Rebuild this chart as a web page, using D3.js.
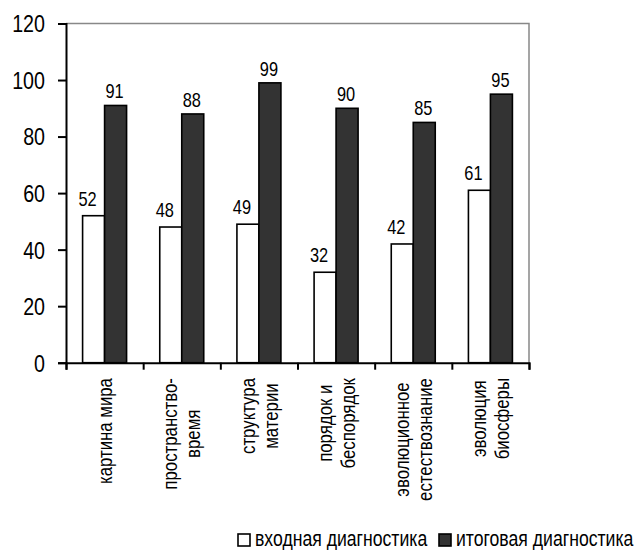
<!DOCTYPE html>
<html><head><meta charset="utf-8">
<script src="https://cdn.jsdelivr.net/npm/d3@7"></script>
<style>
body{margin:0;background:#fff}
svg text{font-family:"Liberation Sans",Arial,sans-serif;fill:#000}
</style></head><body>
<svg id="c" width="635" height="550"></svg>
<script>
const categories = [
  ["картина мира"],
  ["пространство-","время"],
  ["структура","материи"],
  ["порядок и","беспорядок"],
  ["эволюционное","естествознание"],
  ["эволюция","биосферы"]
];
const seriesNames = ["входная диагностика","итоговая диагностика"];
const inputValues = [52,48,49,32,42,61];
const finalValues = [91,88,99,90,85,95];
const yTicks = [0,20,40,60,80,100,120];

const NX = 0.82; // narrow-font horizontal scale
const svg = d3.select("#c");
const L=66, R=529, T=23.5, B=362.7;
const keys = categories.map((c,i)=>"c"+i);
const x = d3.scaleBand().domain(keys).range([L,R]).paddingInner(0.43).paddingOuter(0.215);
const xs = d3.scaleBand().domain([0,1]).range([0,x.bandwidth()]);
const y = d3.scaleLinear().domain([0,120]).range([B,T]);
const colors = ["#ffffff","#333333"];
const series = [inputValues, finalValues];

function ntext(parent, tx, ty, str, size, anchor){
  return parent.append("text")
    .attr("transform",`translate(${tx},${ty}) scale(${NX},1)`)
    .attr("text-anchor",anchor||"start").attr("font-size",size).text(str);
}

// frame (top/right gray)
svg.append("path").attr("d",`M${L},${T}H${R}V${B}`).attr("fill","none").attr("stroke","#888").attr("stroke-width",1.5);

// bars
series.forEach((vals,s)=>{
  svg.append("g").selectAll("rect").data(vals).join("rect")
    .attr("x",(d,i)=>x(keys[i])+xs(s))
    .attr("width",xs.bandwidth())
    .attr("y",d=>y(d)).attr("height",d=>B-y(d))
    .attr("fill",colors[s]).attr("stroke","#000").attr("stroke-width",1.6);
});

// value labels
const labDx=[-6,-1], labDy=[-10,-7];
series.forEach((vals,s)=>{
  const g = svg.append("g");
  vals.forEach((d,i)=>{
    ntext(g, x(keys[i])+xs(s)+xs.bandwidth()/2+labDx[s], y(d)+labDy[s], d, 20, "middle");
  });
});

// y axis
const ya = svg.append("g").attr("transform",`translate(${L},0)`)
  .call(d3.axisLeft(y).tickValues(yTicks).tickSize(8).tickPadding(13));
ya.select(".domain").attr("stroke","#000").attr("stroke-width",2);
ya.selectAll(".tick line").attr("stroke","#000").attr("stroke-width",2);
ya.selectAll(".tick text").attr("font-size",24).attr("font-family",null)
  .attr("x",-21/NX).attr("transform",`scale(${NX},1)`).attr("dy","0.35em");

// x axis with boundary ticks
const xb = d3.scaleLinear().domain([0,categories.length]).range([L,R]);
const xa = svg.append("g").attr("transform",`translate(0,${B})`)
  .call(d3.axisBottom(xb).tickValues(d3.range(categories.length+1)).tickSize(7).tickFormat(""));
xa.select(".domain").attr("stroke","#000").attr("stroke-width",2);
xa.selectAll(".tick line").attr("stroke","#000").attr("stroke-width",2);

// category labels (rotated)
const lineGap = 23, labTop = 378;
categories.forEach((lines,i)=>{
  const cx = x(keys[i]) + x.bandwidth()/2;
  const g = svg.append("g");
  const texts = lines.map(t=> g.append("text").attr("font-size",20.5)
      .attr("text-anchor","middle").attr("dominant-baseline","central").text(t));
  const maxW = d3.max(texts, t=>t.node().getComputedTextLength())*NX;
  const cy = labTop + maxW/2;
  texts.forEach((t,j)=>{
    const off = (j - (lines.length-1)/2)*lineGap;
    t.attr("transform",`translate(${cx+off},${cy}) rotate(-90) scale(${NX},1)`);
  });
});

// legend
const lg = svg.append("g");
const legX = [237, 438];
seriesNames.forEach((n,s)=>{
  lg.append("rect").attr("x",legX[s]+1).attr("y",534).attr("width",12).attr("height",12)
    .attr("fill",colors[s]).attr("stroke","#000").attr("stroke-width",1.6);
  ntext(lg, legX[s]+18, 546, n, 21.5);
});
</script></body></html>
